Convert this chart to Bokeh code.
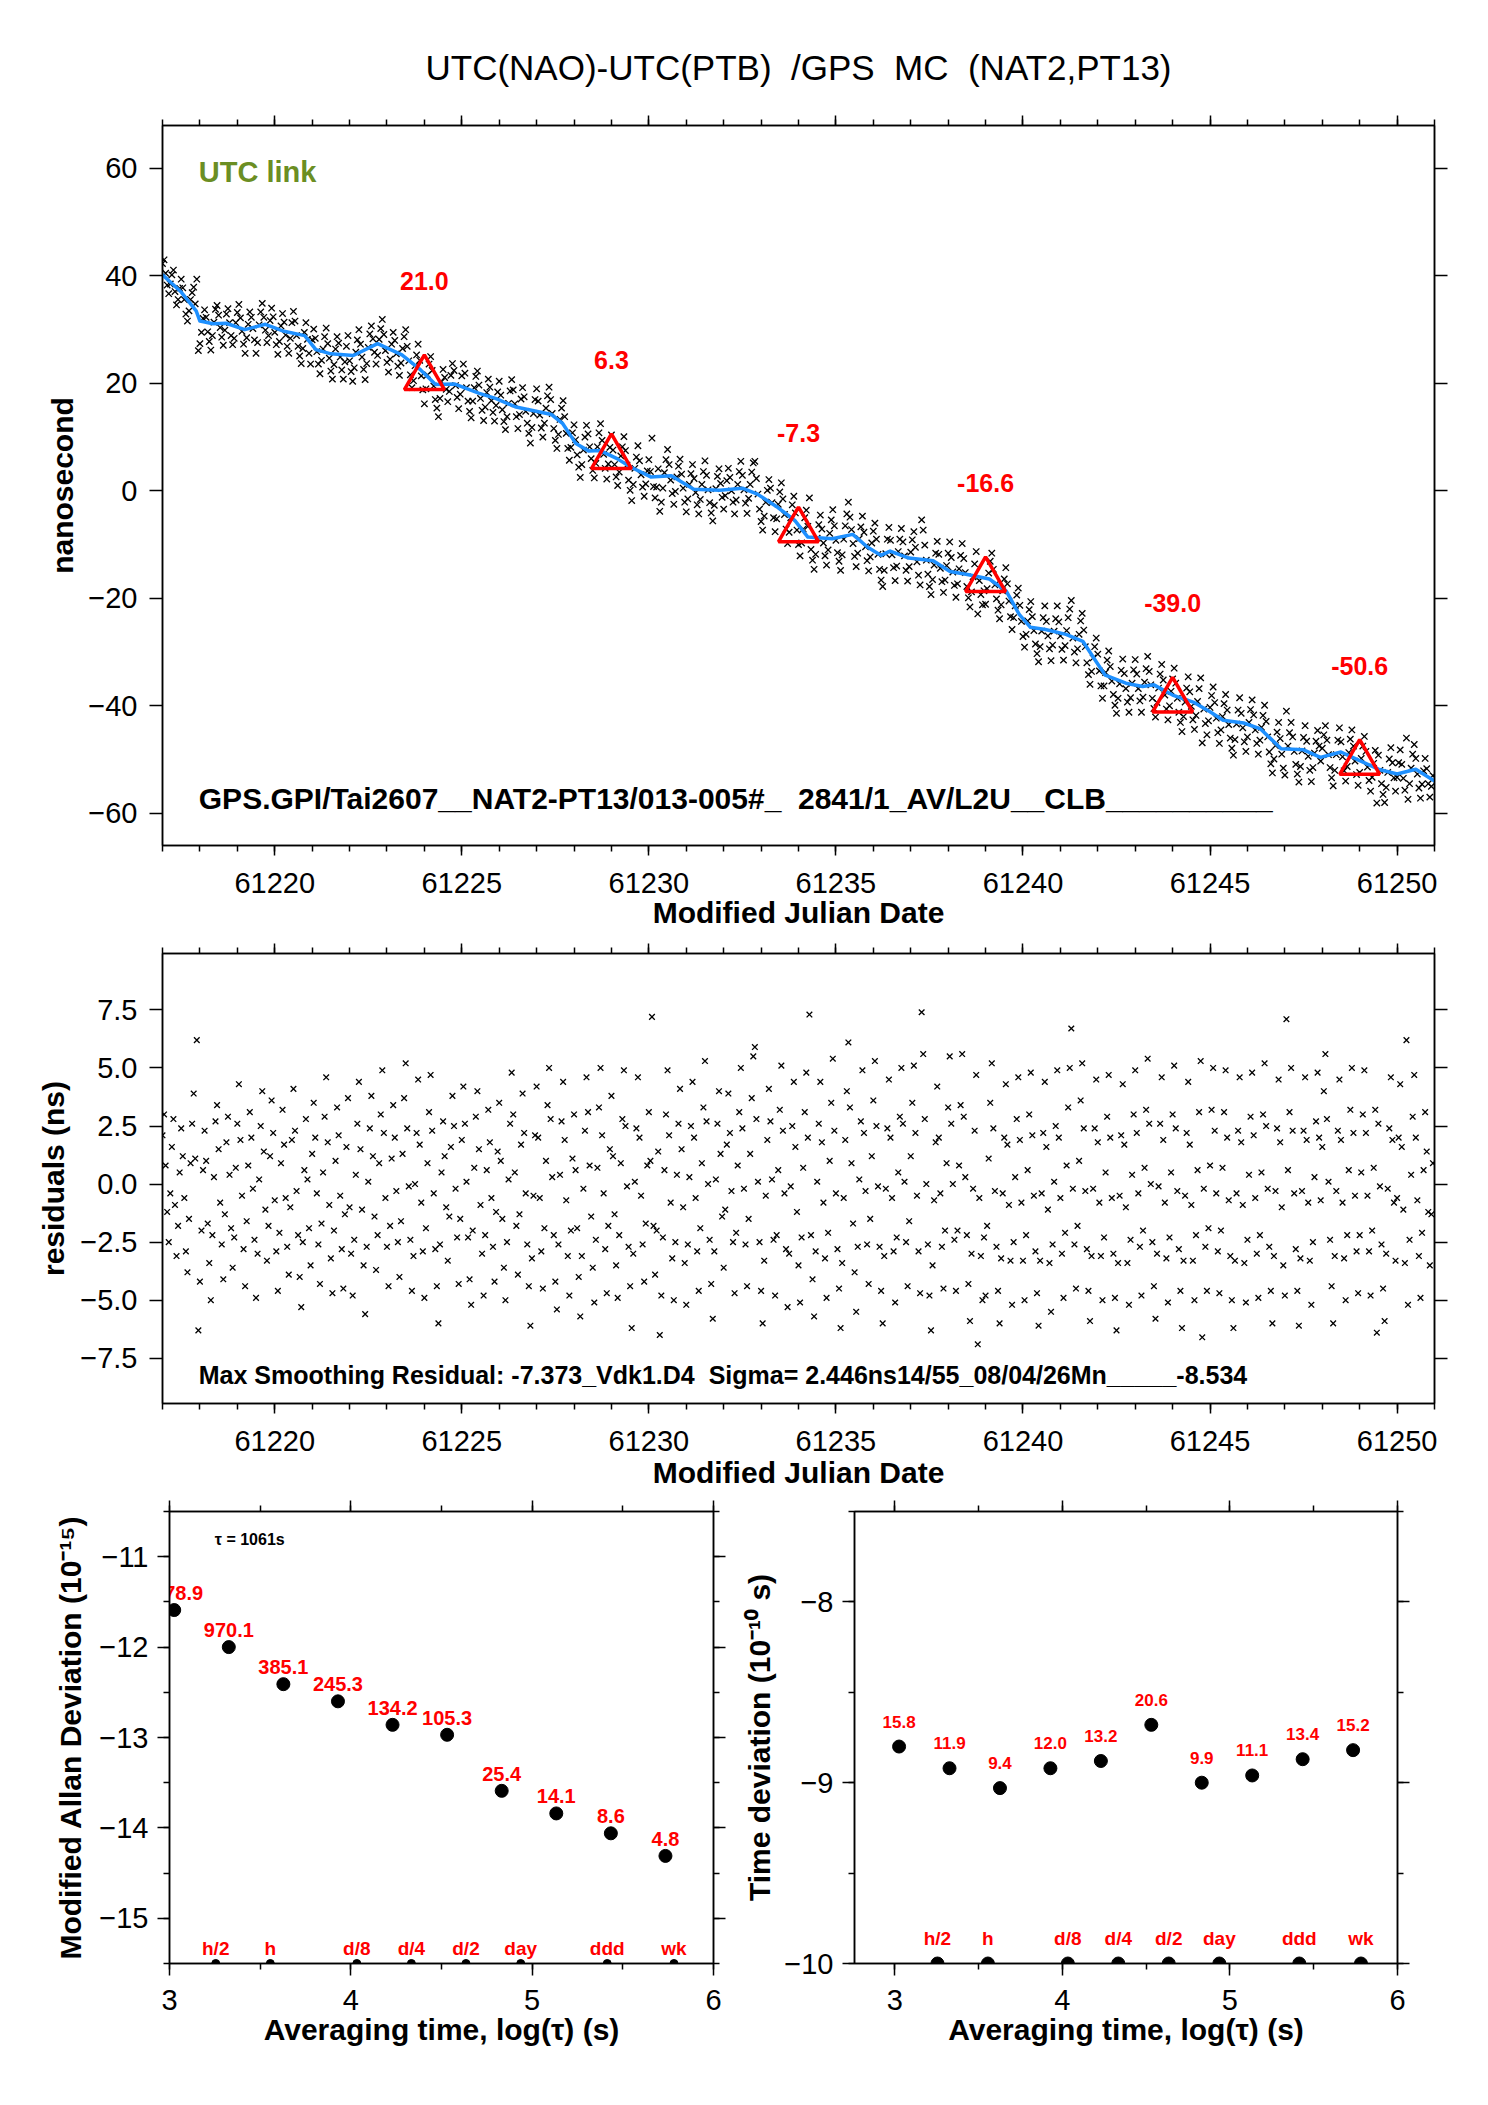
import numpy as np
from bokeh.plotting import figure
from bokeh.models import (Range1d, FixedTicker, LinearAxis, CustomJSTickFormatter,
                          Label, ColumnDataSource)
from bokeh.layouts import column, row
from bokeh.embed import file_html
from bokeh.resources import INLINE
from bokeh.core.properties import value

FONT = "Liberation Sans"
NB = "\u00a0"

# ---------------- data ----------------
mjd_start = 61217.0
samples_per_day = 24

offset_ns = [
    42.3, 43.0, 40.5, 38.3, 36.7, 38.5, 40.2, 41.1, 37.1, 34.6, 35.6, 37.7, 39.4, 37.8, 35.6, 32.9, 31.6, 33.5, 35.6, 36.9, 37.9, 34.8, 39.4, 26.1,
    27.4, 29.5, 32.1, 33.7, 32.3, 29.6, 27.8, 26.2, 28.9, 31.4, 33.8, 34.5, 32.7, 30.4, 28.6, 27.1, 29.9, 32.9, 33.9, 31.3, 28.9, 27.2, 28.4, 31.3,
    33.2, 34.7, 32.2, 29.7, 27.3, 25.6, 28.5, 31.0, 33.3, 32.3, 30.2, 28.1, 25.6, 27.6, 30.9, 33.3, 34.9, 32.3, 29.9, 27.6, 28.9, 31.7, 34.0, 32.4,
    29.5, 27.2, 25.4, 27.8, 30.7, 33.0, 31.4, 29.0, 26.9, 25.6, 28.4, 31.3, 33.4, 31.6, 28.9, 26.9, 25.1, 23.7, 26.5, 29.5, 31.3, 28.2, 25.6, 23.6,
    28.1, 30.1, 28.4, 25.9, 23.6, 21.8, 24.3, 26.4, 28.7, 30.3, 27.4, 24.7, 22.3, 20.8, 23.5, 26.4, 28.7, 27.5, 24.9, 22.5, 20.8, 24.0, 26.9, 28.9,
    24.2, 22.2, 20.4, 22.9, 25.8, 28.1, 30.0, 27.3, 24.9, 22.6, 20.7, 23.7, 26.7, 29.2, 30.7, 28.3, 25.8, 23.6, 25.2, 28.2, 30.2, 31.9, 29.1, 26.1,
    23.9, 22.1, 24.5, 27.3, 29.5, 28.0, 25.5, 23.2, 21.5, 23.8, 26.5, 28.7, 30.0, 26.9, 24.2, 21.6, 19.2, 20.5, 23.3, 25.3, 27.3, 24.3, 21.4, 18.8,
    16.2, 19.0, 21.6, 23.6, 25.0, 22.4, 19.5, 17.0, 15.4, 13.8, 17.2, 20.3, 22.6, 21.1, 18.9, 16.6, 18.5, 21.5, 23.7, 22.4, 19.6, 17.4, 15.3, 18.0,
    21.4, 23.6, 21.9, 19.2, 16.7, 14.8, 13.6, 16.7, 19.2, 21.3, 22.3, 19.7, 17.2, 15.0, 13.1, 15.6, 18.3, 20.8, 19.3, 16.8, 14.6, 13.0, 15.9, 18.4,
    20.4, 17.8, 15.1, 12.9, 11.4, 13.8, 16.3, 18.6, 20.7, 18.8, 16.2, 13.8, 11.6, 14.2, 17.1, 19.2, 17.5, 14.8, 12.6, 10.7, 8.9, 11.8, 14.4, 17.0,
    19.0, 16.7, 14.1, 11.7, 10.0, 12.6, 15.4, 17.7, 19.3, 17.0, 14.4, 11.6, 9.4, 7.9, 10.5, 13.3, 15.4, 16.8, 13.8, 10.7, 7.9, 5.7, 8.1, 10.8,
    12.3, 9.5, 6.7, 4.4, 2.5, 4.9, 7.6, 10.0, 12.2, 10.6, 8.2, 6.0, 3.8, 2.4, 5.1, 8.2, 10.8, 12.5, 9.4, 6.8, 4.2, 2.2, 5.0, 8.1,
    10.4, 7.6, 4.9, 2.6, 1.0, 3.5, 6.5, 8.2, 10.1, 7.5, 4.8, 2.0, 0.1, -1.8, 1.2, 4.2, 6.3, 8.4, 5.6, 3.0, 0.7, -1.0, 1.3, 3.7,
    5.8, 3.6, 9.8, 0.8, -1.3, 0.7, 4.1, -3.8, -2.1, 0.5, 3.4, 5.8, 7.7, 4.9, 2.0, -0.5, -2.5, -0.1, 2.6, 4.6, 5.9, 3.1, 0.5, -2.1,
    -3.9, -1.5, 1.2, 3.2, 4.9, 2.3, -0.3, -2.6, -4.3, -1.6, 1.2, 3.6, 5.6, 2.9, 0.2, -2.2, -4.1, -5.6, -2.7, 0.4, 2.7, 4.1, 1.4, -1.2,
    -3.4, -0.9, 1.9, 4.2, 2.5, 0.0, -2.1, -4.3, -1.7, 1.2, 3.6, 5.5, 2.9, 0.2, -2.3, -4.2, -1.4, 1.2, 3.5, 5.2, 5.5, 2.3, -0.6, -3.4,
    -5.7, -7.3, -4.7, -2.1, 0.1, 2.1, 0.5, -2.2, -5.0, -7.6, -5.2, -2.5, -0.2, 1.5, -1.5, -4.4, -7.1, -9.8, -7.7, -5.0, -2.6, -1.0, -4.1, -7.3,
    -10.0, -12.1, -9.7, -7.1, -5.0, -3.6, -6.6, -1.3, -10.9, -12.9, -14.6, -11.8, -8.8, -6.3, -4.5, -7.1, -9.7, -12.1, -13.8, -11.0, -7.9, -5.4, -3.5, -6.5,
    -9.2, -11.5, -13.1, -14.8, -11.9, -9.0, -6.5, -4.3, -2.1, -4.9, -7.2, -9.8, -12.2, -14.1, -11.6, -8.9, -6.7, -4.7, -7.7, -10.4, -13.0, -14.9, -12.3, -9.7,
    -7.5, -6.0, -9.0, -11.8, -14.6, -16.6, -17.8, -14.8, -11.7, -9.0, -6.8, -9.2, -11.9, -14.3, -16.7, -14.0, -11.3, -9.0, -7.0, -9.5, -12.1, -14.8, -16.8, -14.1,
    -11.4, -9.1, -7.6, -10.5, -13.2, -15.7, -17.5, -5.4, -7.3, -10.1, -12.9, -15.5, -17.8, -19.3, -16.5, -13.8, -11.6, -9.4, -11.8, -14.4, -16.9, -18.9, -16.6, -13.9,
    -11.6, -9.5, -12.4, -15.1, -17.6, -19.8, -17.3, -14.5, -12.0, -9.8, -12.6, -15.2, -17.8, -19.9, -21.6, -18.8, -16.0, -13.6, -11.3, -22.9, -16.7, -19.3, -21.2, -18.6,
    -21.1, -18.2, -15.3, -13.1, -11.6, -14.6, -17.5, -20.1, -22.2, -23.8, -21.2, -18.6, -16.4, -14.3, -17.3, -20.5, -23.4, -25.8, -23.6, -21.4, -19.4, -18.1, -21.3, -24.3,
    -27.1, -29.1, -26.7, -24.2, -22.1, -20.6, -23.4, -26.0, -28.5, -30.3, -31.8, -29.0, -26.1, -23.6, -21.4, -24.3, -27.0, -29.4, -31.6, -28.7, -26.1, -23.8, -21.4, -24.4,
    -27.0, -29.5, -31.5, -28.8, -26.0, -23.6, -22.0, -20.4, -27.4, -30.0, -32.0, -29.4, -26.7, -24.2, -22.8, -25.9, -29.0, -32.0, -34.2, -36.0, -33.6, -31.1, -29.0, -27.4,
    -30.4, -33.5, -36.3, -38.6, -36.3, -33.8, -31.5, -29.8, -32.7, -35.4, -37.9, -39.9, -41.4, -38.6, -35.9, -33.4, -31.3, -34.0, -36.8, -39.3, -41.2, -38.5, -35.8, -33.3,
    -31.4, -34.1, -36.8, -39.1, -41.2, -38.4, -35.6, -33.1, -30.8, -33.6, -36.1, -38.6, -40.5, -42.1, -39.4, -36.7, -34.1, -32.3, -35.2, -38.0, -40.6, -42.6, -40.0, -37.3,
    -35.0, -33.0, -35.8, -38.6, -41.2, -43.1, -44.8, -42.0, -39.3, -36.7, -34.6, -37.4, -40.1, -42.6, -44.4, -41.8, -39.2, -36.8, -34.8, -46.9, -40.6, -43.3, -45.4, -42.8,
    -40.3, -38.1, -36.5, -39.4, -42.3, -45.0, -47.0, -44.5, -42.0, -39.6, -37.9, -40.8, -43.5, -46.0, -47.9, -49.2, -46.3, -43.4, -40.8, -38.5, -41.4, -44.1, -46.7, -48.5,
    -45.8, -43.1, -40.7, -38.9, -41.7, -44.5, -47.0, -49.0, -46.4, -44.0, -41.8, -39.9, -42.9, -45.8, -48.6, -50.8, -52.5, -49.9, -47.4, -44.9, -43.1, -46.1, -49.0, -51.6,
    -52.9, -41.0, -47.5, -45.0, -43.1, -45.8, -48.5, -50.9, -52.7, -54.2, -51.3, -48.4, -45.9, -43.7, -46.6, -49.4, -52.0, -54.1, -51.5, -48.8, -46.6, -44.6, -47.5, -50.3,
    -47.9, -45.4, -43.7, -46.4, -49.1, -51.5, -53.4, -54.9, -52.0, -49.1, -46.4, -44.1, -46.7, -49.5, -52.1, -54.0, -51.3, -48.7, -46.2, -44.5, -47.5, -50.3, -52.8, -54.8,
    -52.4, -49.8, -47.5, -45.7, -48.5, -51.4, -53.9, -55.9, -53.3, -50.7, -48.3, -58.1, -49.2, -52.0, -54.5, -56.5, -58.0, -55.2, -52.4, -49.9, -47.8, -50.6, -53.4, -55.9,
    -53.3, -50.6, -48.2, -50.9, -53.5, -55.7, -46.0, -57.4, -54.5, -51.6, -49.0, -47.2, -49.8, -52.7, -55.3, -57.2, -54.6, -52.1, -49.8, -51.7, -54.5, -57.0, -55.0, -53.0,
]

residual_ns = [
    2.1, 3.0, 0.8, -1.2, -2.5, -0.4, 1.6, 2.8, -0.9, -3.1, -1.8, 0.5, 2.4, 1.2, -0.6, -2.9, -3.8, -1.5, 0.9, 2.6, 3.9, 1.1, 6.2, -6.3,
    -4.2, -2.0, 0.6, 2.3, 1.0, -1.7, -3.4, -5.0, -2.2, 0.3, 2.7, 3.4, 1.5, -0.8, -2.6, -4.1, -1.3, 1.8, 2.9, 0.4, -1.9, -3.6, -2.3, 0.7,
    2.6, 4.3, 1.9, -0.5, -2.8, -4.4, -1.6, 0.8, 3.1, 2.0, -0.2, -2.4, -4.9, -3.0, 0.2, 2.5, 4.0, 1.4, -1.1, -3.3, -1.8, 1.2, 3.6, 2.2,
    -0.7, -2.9, -4.6, -2.1, 0.9, 3.2, 1.7, -0.6, -2.7, -3.9, -1.0, 1.9, 4.1, 2.3, -0.3, -2.2, -4.0, -5.3, -2.5, 0.6, 2.8, 0.2, -1.9, -3.5,
    1.3, 3.5, 2.0, -0.4, -2.6, -4.3, -1.7, 0.5, 2.9, 4.6, 1.8, -0.9, -3.2, -4.7, -2.0, 1.0, 3.3, 2.1, -0.5, -2.8, -4.5, -1.3, 1.6, 3.7,
    -1.0, -3.0, -4.8, -2.4, 0.4, 2.6, 4.4, 1.5, -1.1, -3.5, -5.6, -2.7, 0.1, 2.4, 3.8, 1.2, -1.4, -3.7, -2.2, 0.9, 3.0, 4.9, 2.2, -0.6,
    -2.7, -4.4, -1.8, 1.1, 3.4, 2.0, -0.3, -2.5, -4.0, -1.6, 1.3, 3.7, 5.2, 2.4, -0.1, -2.4, -4.6, -3.1, 0.0, 2.2, 4.5, 1.7, -0.8, -2.9,
    -4.9, -1.9, 0.9, 3.1, 4.7, 2.3, -0.4, -2.8, -4.4, -6.0, -2.6, 0.5, 2.7, 1.2, -1.0, -3.3, -1.4, 1.6, 3.8, 2.5, -0.2, -2.3, -4.3, -1.5,
    1.9, 4.2, 2.6, 0.1, -2.3, -4.1, -5.2, -2.0, 0.7, 2.9, 4.0, 1.5, -0.9, -3.0, -4.8, -2.2, 0.6, 3.2, 1.8, -0.6, -2.7, -4.2, -1.2, 1.4,
    3.5, 1.0, -1.5, -3.6, -5.0, -2.5, 0.2, 2.6, 4.8, 3.0, 0.5, -1.8, -3.9, -1.3, 1.7, 3.9, 2.2, -0.4, -2.6, -4.4, -6.1, -3.2, -0.5, 2.1,
    4.2, 2.0, -0.6, -2.9, -4.5, -1.9, 1.0, 3.4, 5.0, 2.8, 0.3, -2.2, -4.2, -5.4, -2.6, 0.4, 2.7, 4.4, 1.9, -0.7, -3.1, -4.8, -2.0, 1.1,
    3.0, 0.6, -1.9, -4.0, -5.7, -3.1, -0.2, 2.3, 4.6, 3.1, 0.8, -1.4, -3.6, -5.1, -2.4, 0.7, 3.3, 5.0, 2.1, -0.4, -2.8, -4.7, -1.8, 1.5,
    3.8, 1.2, -1.3, -3.5, -4.9, -2.2, 0.9, 2.8, 4.9, 2.5, -0.1, -2.7, -4.4, -6.2, -3.0, 0.1, 2.4, 4.6, 2.0, -0.5, -2.6, -4.2, -1.7, 0.8,
    3.1, 1.0, 7.2, -1.8, -3.9, -2.0, 1.4, -6.5, -4.8, -2.3, 0.6, 3.0, 4.9, 2.1, -0.8, -3.2, -5.0, -2.5, 0.4, 2.6, 4.1, 1.5, -1.0, -3.4,
    -5.2, -2.6, 0.3, 2.5, 4.4, 2.0, -0.6, -2.9, -4.6, -1.9, 0.9, 3.3, 5.3, 2.7, 0.0, -2.4, -4.3, -5.8, -2.9, 0.2, 2.6, 4.0, 1.3, -1.4,
    -3.6, -1.1, 1.7, 3.9, 2.2, -0.3, -2.5, -4.7, -2.1, 0.8, 3.1, 5.0, 2.4, -0.2, -2.6, -4.4, -1.5, 1.3, 3.7, 5.5, 5.9, 2.8, 0.1, -2.5,
    -4.6, -6.0, -3.3, -0.5, 1.9, 4.1, 2.7, 0.2, -2.4, -4.8, -2.2, 0.6, 3.2, 5.1, 2.3, -0.4, -2.8, -5.3, -3.0, -0.1, 2.5, 4.4, 1.6, -1.2,
    -3.5, -5.1, -2.3, 0.7, 3.1, 4.8, 2.0, 7.3, -2.2, -4.1, -5.7, -2.9, 0.1, 2.6, 4.4, 1.8, -0.8, -3.2, -4.9, -2.1, 1.0, 3.5, 5.4, 2.3,
    -0.4, -2.8, -4.5, -6.2, -3.4, -0.6, 1.9, 4.0, 6.1, 3.3, 0.9, -1.7, -3.8, -5.5, -2.7, 0.2, 2.7, 4.9, 2.2, -0.3, -2.6, -4.3, -1.5, 1.2,
    3.6, 5.3, 2.5, -0.1, -2.7, -4.6, -6.0, -3.1, -0.2, 2.4, 4.5, 2.0, -0.6, -2.9, -5.1, -2.3, 0.5, 2.9, 5.0, 2.6, 0.1, -2.5, -4.4, -1.6,
    1.2, 3.5, 5.1, 2.2, -0.5, -2.9, -4.7, 7.4, 5.6, 2.8, 0.0, -2.6, -4.8, -6.3, -3.5, -0.7, 1.8, 4.2, 2.0, -0.4, -2.7, -4.5, -2.0, 0.9,
    3.3, 5.5, 2.6, 0.0, -2.4, -4.6, -2.0, 0.8, 3.4, 5.6, 2.9, 0.3, -2.2, -4.3, -5.9, -3.0, -0.2, 2.3, 4.7, -6.9, -0.6, -3.1, -5.0, -2.3,
    -4.8, -1.8, 1.1, 3.5, 5.2, 2.4, -0.3, -2.7, -4.6, -6.0, -3.2, -0.4, 2.0, 4.3, 1.7, -0.9, -3.3, -5.2, -2.5, 0.3, 2.8, 4.6, 1.9, -0.8,
    -3.3, -5.0, -2.2, 0.6, 3.0, 4.8, 2.1, -0.5, -2.9, -4.7, -6.1, -3.3, -0.4, 2.2, 4.4, 1.6, -1.1, -3.4, -5.5, -2.6, 0.1, 2.5, 4.9, 2.0,
    -0.6, -3.0, -4.9, -2.1, 0.8, 3.3, 5.0, 6.7, -0.2, -2.6, -4.5, -1.8, 1.0, 3.6, 5.2, 2.4, -0.3, -2.8, -4.6, -5.9, -3.1, -0.2, 2.4, 4.5,
    1.8, -0.8, -3.1, -5.0, -2.3, 0.5, 2.9, 4.7, 2.0, -0.6, -3.0, -4.9, -6.3, -3.4, -0.5, 2.1, 4.3, 1.7, -1.0, -3.4, -5.2, -2.4, 0.4, 3.0,
    4.9, 2.2, -0.4, -2.7, -4.8, -2.0, 0.7, 3.2, 5.4, 2.6, 0.0, -2.5, -4.4, -5.8, -3.0, -0.1, 2.6, 4.6, 1.9, -0.8, -3.2, -5.1, -2.3, 0.5,
    3.0, 5.1, 2.4, -0.3, -2.8, -4.6, -6.2, -3.3, -0.5, 2.2, 4.4, 1.7, -0.9, -3.3, -5.0, -2.2, 0.6, 3.1, 5.3, -6.6, -0.2, -2.7, -4.6, -1.9,
    0.8, 3.2, 5.0, 2.3, -0.4, -2.9, -4.7, -2.0, 0.7, 3.1, 4.9, 2.0, -0.7, -3.1, -5.0, -6.2, -3.3, -0.4, 2.3, 4.6, 1.8, -0.9, -3.4, -5.1,
    -2.4, 0.4, 2.9, 4.8, 2.1, -0.6, -3.0, -4.9, -2.2, 0.5, 3.0, 5.2, 2.5, -0.2, -2.7, -4.6, -6.0, -3.1, -0.3, 2.4, 4.5, 1.8, -1.0, -3.5,
    -4.8, 7.1, 0.6, 3.1, 5.0, 2.3, -0.4, -2.8, -4.6, -6.1, -3.2, -0.3, 2.3, 4.6, 1.9, -0.8, -3.3, -5.2, -2.5, 0.3, 2.7, 4.8, 2.0, -0.7,
    1.6, 4.0, 5.6, 2.8, 0.1, -2.4, -4.4, -6.0, -3.1, -0.3, 2.3, 4.5, 1.9, -0.8, -3.2, -5.0, -2.2, 0.6, 3.2, 5.0, 2.2, -0.5, -2.9, -4.7,
    -2.2, 0.5, 3.0, 4.9, 2.2, -0.5, -2.9, -4.8, -2.0, 0.7, 3.2, -6.4, 2.6, -0.1, -2.6, -4.5, -5.9, -3.0, -0.2, 2.4, 4.6, 1.9, -0.8, -3.3,
    -0.6, 2.0, 4.3, 1.6, -1.1, -3.4, 6.2, -5.2, -2.4, 0.4, 2.9, 4.7, 2.0, -0.7, -3.1, -4.9, -2.1, 0.6, 3.1, 1.4, -1.2, -3.5, -1.3, 0.9,
]

smooth_mjd = [61217.0, 61217.5, 61217.9, 61218.0, 61218.35, 61218.7, 61219.2, 61219.75, 61220.25, 61220.8,
              61221.1, 61221.5, 61222.1, 61222.75, 61223.4, 61223.9, 61224.3, 61224.8, 61225.45, 61225.9,
              61226.45, 61227.4, 61227.7, 61228.05, 61228.4, 61228.7, 61229.15, 61229.5, 61230.05, 61230.6,
              61231.2, 61231.9, 61232.5, 61232.9, 61233.45, 61233.9, 61234.25, 61234.9, 61235.45, 61235.85,
              61236.2, 61236.45, 61236.95, 61237.6, 61238.05, 61238.55, 61239.1, 61239.55, 61239.9, 61240.2,
              61240.6, 61241.15, 61241.6, 61241.95, 61242.2, 61242.75, 61243.2, 61243.5, 61244.0, 61244.55,
              61245.0, 61245.35, 61245.9, 61246.35, 61246.9, 61247.5, 61247.95, 61248.5, 61249.0, 61249.5,
              61250.0, 61250.5, 61251.0]
smooth_ns = [40.2, 37.0, 33.5, 31.6, 31.1, 31.2, 30.0, 31.0, 29.7, 28.9,
             26.3, 25.5, 25.2, 27.4, 25.3, 22.5, 19.8, 19.9, 18.2, 17.2,
             15.6, 14.2, 12.5, 8.8, 7.4, 7.5, 6.0, 4.5, 2.6, 2.8,
             0.3, 0.1, 0.5, -0.6, -3.1, -5.5, -8.6, -8.9, -8.1, -10.5,
             -12.0, -11.2, -12.5, -13.0, -15.0, -15.6, -16.4, -18.6, -23.0, -25.4,
             -25.8, -26.7, -28.0, -31.7, -34.3, -35.8, -36.4, -36.1, -38.0, -39.3,
             -41.1, -42.7, -43.2, -44.3, -48.0, -48.2, -49.6, -48.6, -50.2, -51.8,
             -52.7, -51.8, -54.0]

tri_mjd = [61224, 61229, 61234, 61239, 61244, 61249]
tri_ns = [21.0, 6.3, -7.3, -16.6, -39.0, -50.6]

log_tau = [3.026, 3.327, 3.628, 3.929, 4.230, 4.531, 4.832, 5.133, 5.434, 5.735]
mdev_log = [-11.59, -12.00, -12.41, -12.60, -12.86, -12.97, -13.59, -13.84, -14.06, -14.31]
mdev_text = ["78.9", "970.1", "385.1", "245.3", "134.2", "105.3", "25.4", "14.1", "8.6", "4.8"]
tdev_log = [-8.80, -8.92, -9.03, -8.92, -8.88, -8.68, -9.00, -8.96, -8.87, -8.82]
tdev_text = ["15.8", "11.9", "9.4", "12.0", "13.2", "20.6", "9.9", "11.1", "13.4", "15.2"]
mark_log_tau = [3.255, 3.556, 4.033, 4.334, 4.635, 4.937, 5.414, 5.782]
mark_names = ["h/2", "h", "d/8", "d/4", "d/2", "day", "ddd", "wk"]

mjd_major = [61220, 61225, 61230, 61235, 61240, 61245, 61250]
mjd_minor = list(range(61217, 61252))
ns_ticks = [-60, -40, -20, 0, 20, 40, 60]
res_ticks = [-7.5, -5.0, -2.5, 0.0, 2.5, 5.0, 7.5]
tau_major = [3, 4, 5, 6]
tau_minor = [3.0, 3.5, 4.0, 4.5, 5.0, 5.5, 6.0]
mdev_major = [-15, -14, -13, -12, -11]
mdev_minor = [-15.5, -15.0, -14.5, -14.0, -13.5, -13.0, -12.5, -12.0, -11.5, -11.0, -10.5]
tdev_major = [-10, -9, -8]
tdev_minor = [-10.0, -9.5, -9.0, -8.5, -8.0, -7.5]

t_off = mjd_start + np.arange(len(offset_ns)) / samples_per_day
t_res = mjd_start + np.arange(len(residual_ns)) / samples_per_day


# ---------------- helpers ----------------
def fmt(decimals):
    return CustomJSTickFormatter(code=(
        "var s = Math.abs(tick).toFixed(%d);"
        "return (tick < -1e-9) ? '\\u2212' + s : s;" % decimals))


def style_axis(ax, tick_out=12, minor_out=6, label_standoff=12, axis_standoff=6):
    ax.axis_line_width = 1.5
    ax.axis_line_color = "black"
    ax.major_tick_line_width = 1.5
    ax.minor_tick_line_width = 1.5
    ax.major_tick_line_color = "black"
    ax.minor_tick_line_color = "black"
    ax.major_tick_in = 0
    ax.minor_tick_in = 0
    ax.major_tick_out = tick_out
    ax.minor_tick_out = minor_out
    ax.major_label_text_font = FONT
    ax.major_label_text_font_size = "29px"
    ax.major_label_text_color = "black"
    ax.major_label_standoff = label_standoff
    ax.axis_label_text_font = FONT
    ax.axis_label_text_font_size = "30px"
    ax.axis_label_text_font_style = "bold"
    ax.axis_label_text_color = "black"
    ax.axis_label_standoff = axis_standoff


def mirror(p, side, ticker, tick_out=12, minor_out=6):
    # tick marks only, no labels (mirror of the opposite axis)
    ax = LinearAxis(ticker=ticker)
    style_axis(ax, tick_out, minor_out, 0, 0)
    ax.major_label_text_font_size = "1px"
    ax.major_label_text_color = None
    ax.major_label_text_alpha = 0
    p.add_layout(ax, side)


def make_fig(width, height, xr, yr, left, right, top, bottom):
    p = figure(width=width, height=height, x_range=xr, y_range=yr,
               output_backend="svg", toolbar_location=None,
               min_border_left=left, min_border_right=right,
               min_border_top=top, min_border_bottom=bottom)
    p.xgrid.visible = False
    p.ygrid.visible = False
    p.outline_line_color = "black"
    p.outline_line_width = 1.5
    p.background_fill_color = "white"
    p.border_fill_color = "white"
    return p


# ---------------- top panel ----------------
top = make_fig(1480, 943, Range1d(61217, 61251), Range1d(-66, 68), 162, 46, 125, 98)
top.xaxis.ticker = FixedTicker(ticks=mjd_major, minor_ticks=mjd_minor)
top.xaxis.formatter = fmt(0)
top.yaxis.ticker = FixedTicker(ticks=ns_ticks)
top.yaxis.formatter = fmt(0)
style_axis(top.xaxis[0], 10, 6, 17, 0)
style_axis(top.yaxis[0], 13, 6, 12, 6)
top.xaxis.axis_label = "Modified Julian Date"
top.yaxis.axis_label = "nanosecond"
mirror(top, "above", FixedTicker(ticks=mjd_major, minor_ticks=mjd_minor), 10, 6)
mirror(top, "right", FixedTicker(ticks=ns_ticks), 13, 6)

top.title.text = "UTC(NAO)-UTC(PTB)" + NB + " /GPS" + NB + " MC" + NB + " (NAT2,PT13)"
top.title.align = "center"
top.title.text_font = FONT
top.title.text_font_size = "35px"
top.title.text_font_style = "normal"
top.title.text_color = "black"
top.title.standoff = 57

top.scatter(t_off, offset_ns, marker="x", size=9, line_color="black", line_width=1.3)
top.line(smooth_mjd, smooth_ns, line_color="#1e90ff", line_width=3.5, line_cap="round",
         line_join="round")
top.scatter(tri_mjd, tri_ns, marker="triangle", size=40, line_color="#ff0000",
            fill_color=None, line_width=3.5)
tri_src = ColumnDataSource(dict(x=tri_mjd, y=tri_ns, label=["%.1f" % v for v in tri_ns]))
top.text(x="x", y="y", text="label", source=tri_src, text_font=value(FONT),
         text_font_style="bold", text_font_size="25px", text_color="#ff0000",
         text_align="center", text_baseline="alphabetic", y_offset=-97)
top.add_layout(Label(x=61217.97, y=59.4, text="UTC link", text_font=FONT,
                     text_font_style="bold", text_font_size="29px", text_color="#6b8e23",
                     text_baseline="alphabetic"))
top.add_layout(Label(x=61217.97, y=-57.3,
                     text="GPS.GPI/Tai2607__NAT2-PT13/013-005#_" + NB + " 2841/1_AV/L2U__CLB" + "_" * 10,
                     text_font=FONT, text_font_style="bold", text_font_size="30px",
                     text_color="black", text_baseline="alphabetic"))

# ---------------- residual panel ----------------
mid = make_fig(1480, 557, Range1d(61217, 61251), Range1d(-9.45, 9.93), 162, 46, 10, 97)
mid.xaxis.ticker = FixedTicker(ticks=mjd_major, minor_ticks=mjd_minor)
mid.xaxis.formatter = fmt(0)
mid.yaxis.ticker = FixedTicker(ticks=res_ticks)
mid.yaxis.formatter = fmt(1)
style_axis(mid.xaxis[0], 10, 6, 17, 2)
style_axis(mid.yaxis[0], 13, 6, 12, 7)
mid.xaxis.axis_label = "Modified Julian Date"
mid.yaxis.axis_label = "residuals (ns)"
mirror(mid, "above", FixedTicker(ticks=mjd_major, minor_ticks=mjd_minor), 10, 6)
mirror(mid, "right", FixedTicker(ticks=res_ticks), 13, 6)
mid.scatter(t_res, residual_ns, marker="x", size=8, line_color="black", line_width=1.3)
mid.add_layout(Label(x=61217.97, y=-8.22,
                     text="Max Smoothing Residual: -7.373_Vdk1.D4" + NB + " Sigma= 2.446ns14/55_08/04/26Mn" + "_" * 5 + "-8.534",
                     text_font=FONT, text_font_style="bold", text_font_size="25px",
                     text_color="black", text_baseline="alphabetic"))

# ---------------- Modified Allan deviation ----------------
bl = make_fig(730, 584, Range1d(3, 6), Range1d(-15.5, -10.5), 169, 17, 11, 121)
bl.xaxis.ticker = FixedTicker(ticks=tau_major, minor_ticks=tau_minor)
bl.xaxis.formatter = fmt(0)
bl.yaxis.ticker = FixedTicker(ticks=mdev_major, minor_ticks=mdev_minor)
bl.yaxis.formatter = fmt(0)
style_axis(bl.xaxis[0], 12, 6, 14, 0)
style_axis(bl.yaxis[0], 12, 6, 9, 9)
bl.xaxis.axis_label = "Averaging time, log(\u03c4) (s)"
bl.yaxis.axis_label = "Modified Allan Deviation (10\u207b\u00b9\u2075)"
mirror(bl, "above", FixedTicker(ticks=tau_major, minor_ticks=tau_minor), 11, 6)
mirror(bl, "right", FixedTicker(ticks=mdev_major, minor_ticks=mdev_minor))
bl.scatter(log_tau, mdev_log, marker="circle", size=13, color="black")
bl.scatter(mark_log_tau, [bl.y_range.start] * len(mark_log_tau), marker="circle", size=8, color="black")
src_bl = ColumnDataSource(dict(x=log_tau[1:], y=mdev_log[1:], t=mdev_text[1:]))
bl.text(x="x", y="y", text="t", source=src_bl, text_font=value(FONT), text_font_style="bold",
        text_font_size="20px", text_color="#ff0000", text_align="center",
        text_baseline="alphabetic", y_offset=-17)
bl.text(x=[log_tau[0]], y=[mdev_log[0]], text=[mdev_text[0]], text_font=value(FONT),
        text_font_style="bold", text_font_size="20px", text_color="#ff0000",
        text_align="left", text_baseline="alphabetic", x_offset=-10, y_offset=-17)
src_mk1 = ColumnDataSource(dict(x=mark_log_tau, y=[bl.y_range.start] * len(mark_log_tau), t=mark_names))
bl.text(x="x", y="y", text="t", source=src_mk1, text_font=value(FONT), text_font_style="bold",
        text_font_size="19px", text_color="#ff0000", text_align="center",
        text_baseline="alphabetic", y_offset=-15)
bl.add_layout(Label(x=3.25, y=-10.81, text="\u03c4 = 1061s", text_font=FONT,
                    text_font_style="bold", text_font_size="16px", text_color="black",
                    text_baseline="alphabetic"))

# ---------------- Time deviation ----------------
br = make_fig(750, 584, Range1d(2.76, 6), Range1d(-10, -7.5), 124, 83, 11, 121)
br.xaxis.ticker = FixedTicker(ticks=tau_major, minor_ticks=tau_minor)
br.xaxis.formatter = fmt(0)
br.yaxis.ticker = FixedTicker(ticks=tdev_major, minor_ticks=tdev_minor)
br.yaxis.formatter = fmt(0)
style_axis(br.xaxis[0], 12, 6, 14, 0)
style_axis(br.yaxis[0], 12, 6, 9, 5)
br.xaxis.axis_label = "Averaging time, log(\u03c4) (s)"
br.yaxis.axis_label = "Time deviation (10\u207b\u00b9\u2070 s)"
mirror(br, "above", FixedTicker(ticks=tau_major, minor_ticks=tau_minor), 11, 6)
mirror(br, "right", FixedTicker(ticks=tdev_major, minor_ticks=tdev_minor))
br.scatter(log_tau, tdev_log, marker="circle", size=13, color="black")
br.scatter(mark_log_tau, [br.y_range.start] * len(mark_log_tau), marker="circle", size=13, color="black")
src_br = ColumnDataSource(dict(x=log_tau, y=tdev_log, t=tdev_text))
br.text(x="x", y="y", text="t", source=src_br, text_font=value(FONT), text_font_style="bold",
        text_font_size="17px", text_color="#ff0000", text_align="center",
        text_baseline="alphabetic", y_offset=-25)
src_mk2 = ColumnDataSource(dict(x=mark_log_tau, y=[br.y_range.start] * len(mark_log_tau), t=mark_names))
br.text(x="x", y="y", text="t", source=src_mk2, text_font=value(FONT), text_font_style="bold",
        text_font_size="19px", text_color="#ff0000", text_align="center",
        text_baseline="alphabetic", y_offset=-25)

layout = column(top, mid, row(bl, br))
html = file_html(layout, INLINE, title="UTC(NAO)-UTC(PTB) /GPS MC")
with open("out.html", "w") as f:
    f.write(html)
